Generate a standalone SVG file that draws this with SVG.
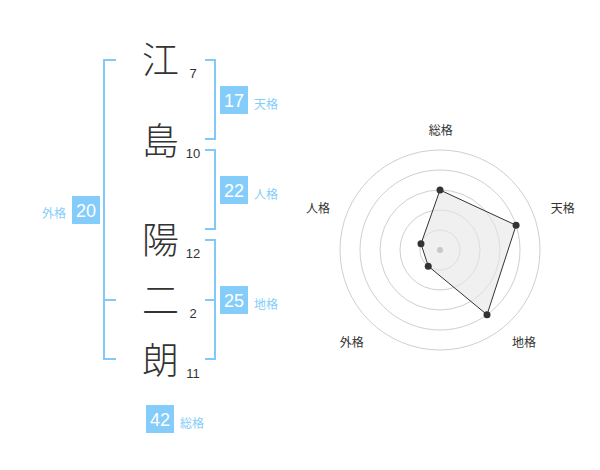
<svg xmlns="http://www.w3.org/2000/svg" width="600" height="470" viewBox="0 0 600 470">
<style>
.ch{font-family:"Noto Sans CJK JP","Noto Sans CJK SC",sans-serif;font-size:37px;font-weight:300;fill:#333;text-anchor:middle}
.num{font-family:"Liberation Sans",Arial,sans-serif;font-size:13px;fill:#333;text-anchor:middle}
.br{fill:none;stroke:#80c9f8;stroke-width:2}
.box{fill:#84cdfa}
.bt{font-family:"Liberation Sans",Arial,sans-serif;font-size:18px;fill:#fff;text-anchor:middle}
.lb{font-family:"Noto Sans CJK JP","Noto Sans CJK SC",sans-serif;font-size:12px;fill:#84cdfa}
.rl{font-family:"Noto Sans CJK JP","Noto Sans CJK SC",sans-serif;font-size:12px;fill:#333;text-anchor:middle}
.ring{fill:none;stroke:#cfcfcf;stroke-width:1}
</style>
<rect width="600" height="470" fill="#fff"/>
<g id="chars">
<g id="c1"><text class="ch" x="160.5" y="74">江</text><text class="num" x="193" y="77.5">7</text></g>
<g id="c2"><text class="ch" x="160.5" y="155">島</text><text class="num" x="193" y="157.5">10</text></g>
<g id="c3"><text class="ch" x="160.5" y="254">陽</text><text class="num" x="193" y="257.5">12</text></g>
<g id="c4"><text class="ch" x="160.5" y="314">二</text><text class="num" x="193" y="318">2</text></g>
<g id="c5"><text class="ch" x="160.5" y="374">朗</text><text class="num" x="193" y="377.5">11</text></g>
</g>
<g id="brackets">
<path class="br" d="M116,60 H104 V359 H116 M104,300 H116"/>
<path class="br" d="M205,60 H215 V139 H205"/>
<path class="br" d="M205,150 H215 V229 H205"/>
<path class="br" d="M205,240 H215 V359 H205 M205,300 H215"/>
</g>
<g id="tenkaku"><rect class="box" x="220" y="86" width="28" height="28"/><text class="bt" x="234" y="106.5">17</text><text class="lb" x="254" y="108.5">天格</text></g>
<g id="jinkaku"><rect class="box" x="220" y="176" width="28" height="28"/><text class="bt" x="234" y="196.5">22</text><text class="lb" x="254" y="198.5">人格</text></g>
<g id="chikaku"><rect class="box" x="220" y="286" width="28" height="28"/><text class="bt" x="234" y="306.5">25</text><text class="lb" x="254" y="308.5">地格</text></g>
<g id="gaikaku"><rect class="box" x="72" y="196" width="28" height="28"/><text class="bt" x="86" y="216.5">20</text><text class="lb" x="66" y="218" text-anchor="end">外格</text></g>
<g id="soukaku"><rect class="box" x="146" y="405" width="28" height="28"/><text class="bt" x="160" y="425.5">42</text><text class="lb" x="180" y="427.5">総格</text></g>
<g id="radar">
<circle class="ring" cx="440" cy="250" r="20"/>
<circle class="ring" cx="440" cy="250" r="40"/>
<circle class="ring" cx="440" cy="250" r="60"/>
<circle class="ring" cx="440" cy="250" r="80"/>
<circle class="ring" cx="440" cy="250" r="100"/>
<polygon points="440,190 516.08,225.28 487.02,314.72 428.24,266.18 420.98,243.82" fill="#e6e6e6" fill-opacity="0.6" stroke="#333" stroke-width="1"/>
<circle cx="440" cy="250" r="3" fill="#c8c8c8"/>
<g fill="#333">
<circle cx="440" cy="190" r="3.5"/>
<circle cx="516.08" cy="225.28" r="3.5"/>
<circle cx="487.02" cy="314.72" r="3.5"/>
<circle cx="428.24" cy="266.18" r="3.5"/>
<circle cx="420.98" cy="243.82" r="3.5"/>
</g>
<text class="rl" x="440.7" y="135.2">総格</text>
<text class="rl" x="562.7" y="212.8">天格</text>
<text class="rl" x="524" y="347">地格</text>
<text class="rl" x="351.7" y="347">外格</text>
<text class="rl" x="318" y="212.8">人格</text>
</g>
</svg>
